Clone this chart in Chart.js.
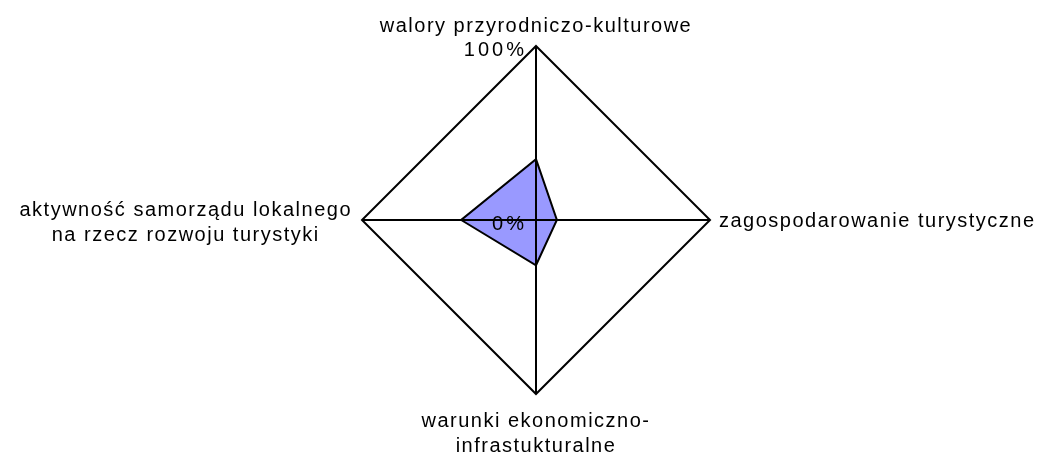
<!DOCTYPE html>
<html>
<head>
<meta charset="utf-8">
<script src="https://cdn.jsdelivr.net/npm/chart.js@4/dist/chart.umd.min.js"></script>
<style>
  html, body { margin: 0; padding: 0; background: #fff; }
  #wrap { width: 1043px; height: 460px; position: relative; }
</style>
</head>
<body>
<div id="wrap"><canvas id="chart"></canvas></div>
<script>
// kategorie (osie) i wartości w %
const categories = [
    ['walory przyrodniczo-kulturowe'],
    ['zagospodarowanie turystyczne'],
    ['warunki ekonomiczno-', 'infrastukturalne'],
    ['aktywność samorządu lokalnego', 'na rzecz rozwoju turystyki']
];
const values = [35, 12, 26, 43];
const tickValues = [0, 100];
const tickLabels = ['0%', '100%'];

const FONT = '20px "Liberation Sans", Arial, sans-serif';

// położenie etykiet osi względem wierzchołków
const labelPlacement = [
    { gap: 14, align: 'center', dy: 0 },
    { gap: 9, align: 'left', dy: 7 },
    { gap: 33, align: 'center', dy: 0 },
    { gap: 10, align: 'right', dy: -4 }
];
const LINE_HEIGHT = 25;

const labelsPlugin = {
    id: 'radarLabels',
    afterDraw(chart) {
        const ctx = chart.ctx;
        const scale = chart.scales.r;
        ctx.save();
        ctx.font = FONT;
        ctx.fillStyle = '#000';
        ctx.letterSpacing = '1.5px';
        ctx.textBaseline = 'alphabetic';

        categories.forEach((lines, i) => {
            const pl = labelPlacement[i];
            const p = scale.getPointPosition(i, scale.drawingArea + pl.gap);
            const maxW = Math.max(...lines.map(l => ctx.measureText(l).width));
            let cx = p.x;
            if (pl.align === 'left') cx = p.x + maxW / 2;
            if (pl.align === 'right') cx = p.x - maxW / 2;
            // górna etykieta rośnie do góry
            const first = i === 0 ? p.y - (lines.length - 1) * LINE_HEIGHT : p.y + pl.dy;
            ctx.textAlign = 'center';
            lines.forEach((l, k) => ctx.fillText(l, cx, first + k * LINE_HEIGHT));
        });

        // etykiety skali
        ctx.letterSpacing = '3px';
        ctx.textAlign = 'right';
        ctx.textBaseline = 'middle';
        tickValues.forEach((v, k) => {
            const y = scale.yCenter - scale.getDistanceFromCenterForValue(v);
            ctx.fillText(tickLabels[k], scale.xCenter - 9, y + 4);
        });
        ctx.restore();
    }
};

new Chart(document.getElementById('chart').getContext('2d'), {
    type: 'radar',
    data: {
        labels: categories,
        datasets: [{
            data: values,
            backgroundColor: '#9999ff',
            borderColor: '#000',
            borderWidth: 2,
            pointRadius: 0,
            fill: true
        }]
    },
    options: {
        responsive: true,
        maintainAspectRatio: false,
        animation: false,
        layout: { padding: { left: 362, top: 46, right: 333, bottom: 66 } },
        plugins: {
            legend: { display: false },
            tooltip: { enabled: false }
        },
        scales: {
            r: {
                min: 0,
                max: 100,
                ticks: { display: false, stepSize: 100 },
                // siatka nad wypełnieniem serii
                grid: { color: '#000', lineWidth: 2, z: 1 },
                angleLines: { color: '#000', lineWidth: 2 },
                pointLabels: { display: false }
            }
        }
    },
    plugins: [labelsPlugin]
});
</script>
</body>
</html>
